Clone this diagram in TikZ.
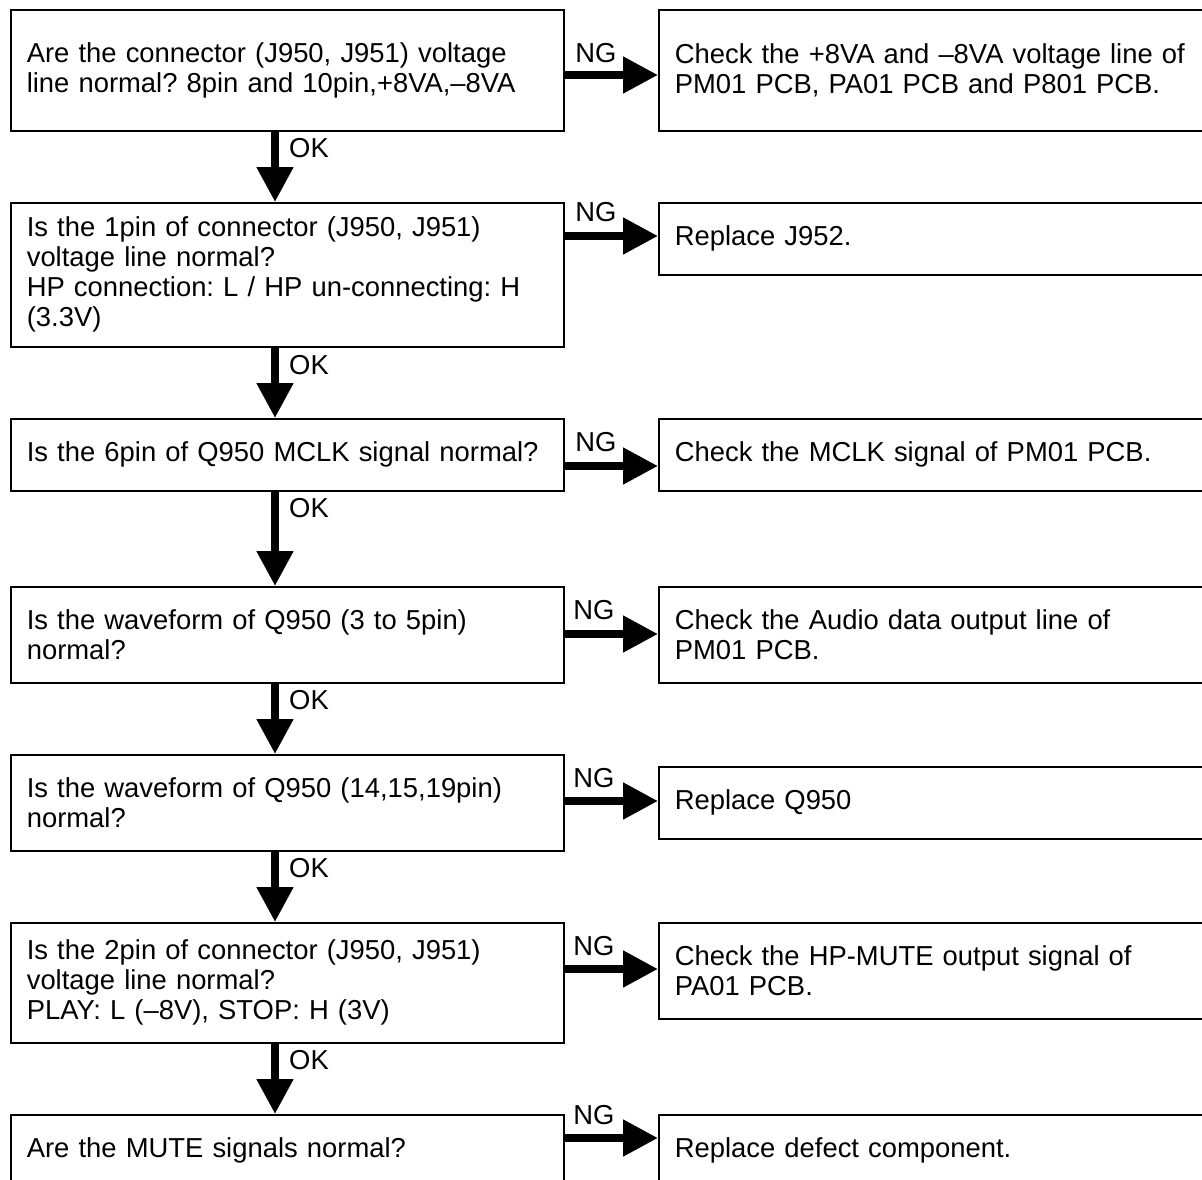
\documentclass[tikz,border=0pt]{standalone}
\usepackage{fontspec}
\setmainfont{Liberation Sans}
\usetikzlibrary{arrows.meta}
\begin{document}
\begin{tikzpicture}[x=1pt,y=-1pt,
  every node/.style={font=\fontsize{27.4pt}{30pt}\selectfont},
  nobreak/.style={execute at begin node={\frenchspacing\hyphenpenalty=10000\exhyphenpenalty=10000}},
  qbox/.style={draw, line width=1.6pt, anchor=north west, text width=521pt,
    inner xsep=16pt, inner ysep=0pt, align=left, minimum width=553pt, nobreak},
  abox/.style={draw, line width=1.6pt, anchor=north west, text width=568pt,
    inner xsep=16pt, inner ysep=0pt, align=left, minimum width=600pt, nobreak},
  flow/.style={line width=8pt, -{Triangle[length=35pt,width=35pt]}},
  lbl/.style={inner sep=0pt}
]
\useasboundingbox (0,0) rectangle (1202,1180);
\clip (0,0) rectangle (1202,1180);
\fill[white] (0,0) rectangle (1202,1180);

% question boxes
\node[qbox, minimum height=121pt] (q1) at (10,9)
  {Are the connector (J950, J951) voltage\\line normal? 8pin and 10pin,+8VA,–8VA};
\node[qbox, minimum height=144pt] (q2) at (10,202)
  {Is the 1pin of connector (J950, J951)\\voltage line normal?\\HP connection: L / HP un-connecting: H\\(3.3V)};
\node[qbox, minimum height=72pt] (q3) at (10,418)
  {Is the 6pin of Q950 MCLK signal normal?};
\node[qbox, minimum height=96pt] (q4) at (10,586)
  {Is the waveform of Q950 (3 to 5pin)\\normal?};
\node[qbox, minimum height=96pt] (q5) at (10,754)
  {Is the waveform of Q950 (14,15,19pin)\\normal?};
\node[qbox, minimum height=120pt] (q6) at (10,922)
  {Is the 2pin of connector (J950, J951)\\voltage line normal?\\PLAY: L (–8V), STOP: H (3V)};
\node[qbox, minimum height=72pt] (q7) at (10,1114)
  {Are the MUTE signals normal?};

% action boxes
\node[abox, minimum height=121pt] (a1) at (658,9)
  {Check the +8VA and –8VA voltage line of\\PM01 PCB, PA01 PCB and P801 PCB.};
\node[abox, minimum height=72pt] (a2) at (658,202)
  {Replace J952.};
\node[abox, minimum height=72pt] (a3) at (658,418)
  {Check the MCLK signal of PM01 PCB.};
\node[abox, minimum height=96pt] (a4) at (658,586)
  {Check the Audio data output line of\\PM01 PCB.};
\node[abox, minimum height=72pt] (a5) at (658,766)
  {Replace Q950};
\node[abox, minimum height=96pt] (a6) at (658,922)
  {Check the HP-MUTE output signal of\\PA01 PCB.};
\node[abox, minimum height=72pt] (a7) at (658,1114)
  {Replace defect component.};

% OK arrows
\draw[flow] (q1.south -| 275,0) -- (q2.north -| 275,0);
\draw[flow] (q2.south -| 275,0) -- (q3.north -| 275,0);
\draw[flow] (q3.south -| 275,0) -- (q4.north -| 275,0);
\draw[flow] (q4.south -| 275,0) -- (q5.north -| 275,0);
\draw[flow] (q5.south -| 275,0) -- (q6.north -| 275,0);
\draw[flow] (q6.south -| 275,0) -- (q7.north -| 275,0);

\node[lbl, anchor=west] (ok1) at (289,148) {OK};
\node[lbl, anchor=west] (ok2) at (289,365) {OK};
\node[lbl, anchor=west] (ok3) at (289,508) {OK};
\node[lbl, anchor=west] (ok4) at (289,700) {OK};
\node[lbl, anchor=west] (ok5) at (289,868) {OK};
\node[lbl, anchor=west] (ok6) at (289,1060) {OK};

% NG arrows
\draw[flow] (q1.east |- 0,75) -- (a1.west |- 0,75);
\draw[flow] (q2.east |- 0,236) -- (a2.west |- 0,236);
\draw[flow] (q3.east |- 0,466) -- (a3.west |- 0,466);
\draw[flow] (q4.east |- 0,634) -- (a4.west |- 0,634);
\draw[flow] (q5.east |- 0,801) -- (a5.west |- 0,801);
\draw[flow] (q6.east |- 0,969) -- (a6.west |- 0,969);
\draw[flow] (q7.east |- 0,1138) -- (a7.west |- 0,1138);

\node[lbl] (ng1) at (596,53) {NG};
\node[lbl] (ng2) at (596,212) {NG};
\node[lbl] (ng3) at (596,442) {NG};
\node[lbl] (ng4) at (594,610) {NG};
\node[lbl] (ng5) at (594,778) {NG};
\node[lbl] (ng6) at (594,946) {NG};
\node[lbl] (ng7) at (594,1115) {NG};
\end{tikzpicture}
\end{document}
